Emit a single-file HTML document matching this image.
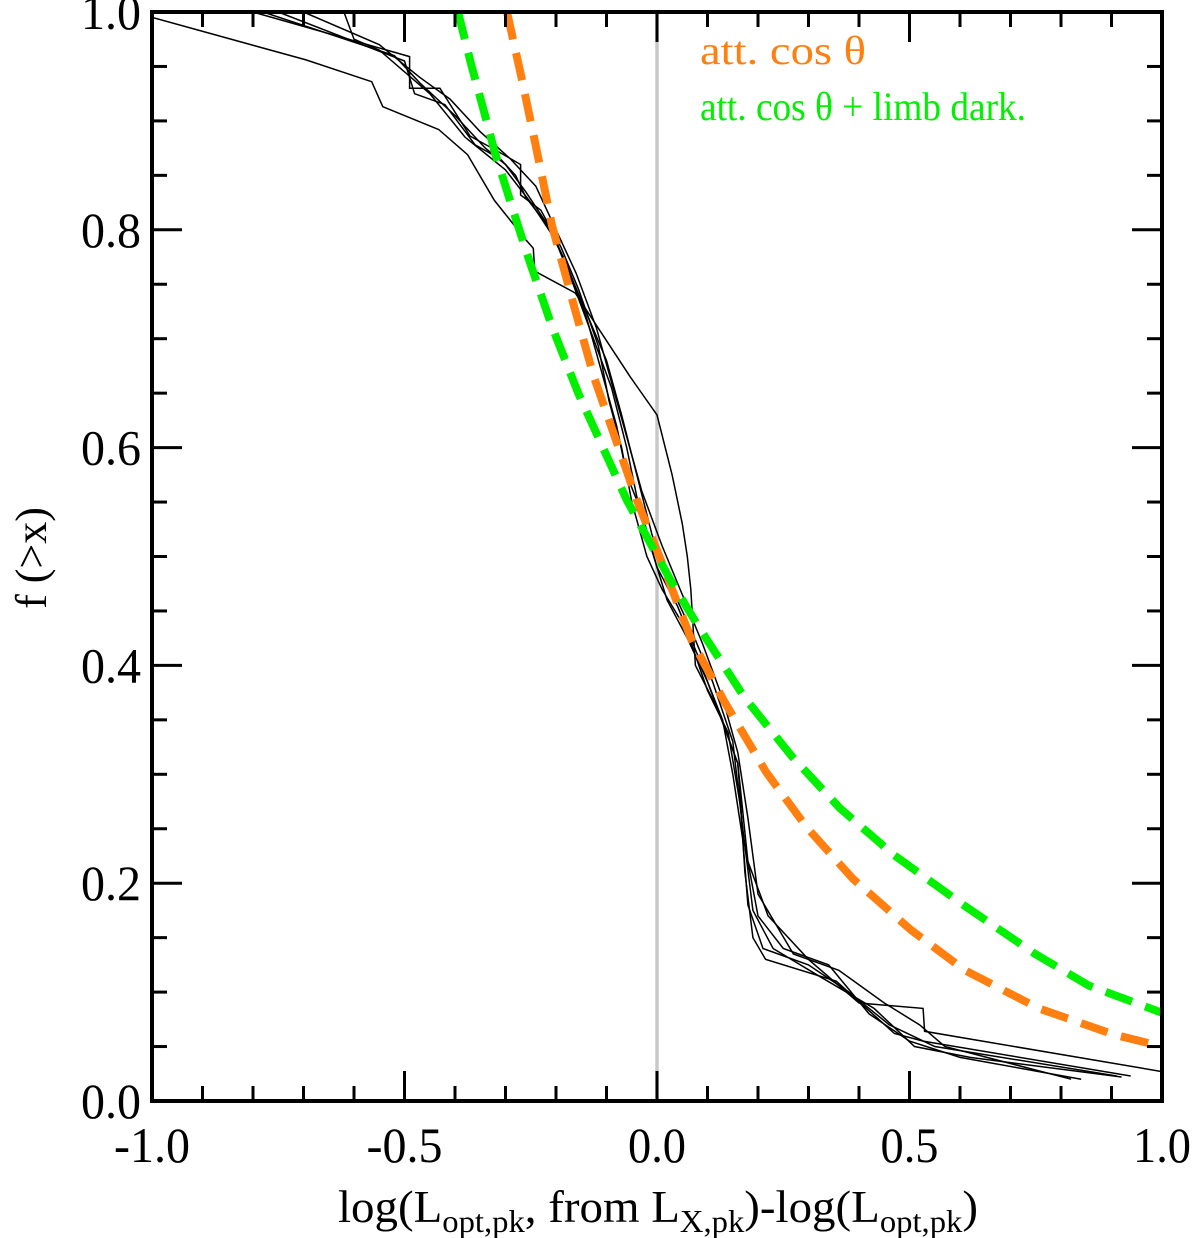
<!DOCTYPE html>
<html><head><meta charset="utf-8"><style>
html,body{margin:0;padding:0;background:#fff}
svg{display:block}
text{font-family:"Liberation Serif",serif;fill:#000}
</style></head><body>
<svg id="chart" width="1200" height="1238" viewBox="0 0 1200 1238" xmlns="http://www.w3.org/2000/svg">
<g id="marks"></g>
<g id="axes"></g>
</svg>
<script>
const xTicks=[-1.0,-0.5,0.0,0.5,1.0];
const xTickLabels=["-1.0","-0.5","0.0","0.5","1.0"];
const yTicks=[0.0,0.2,0.4,0.6,0.8,1.0];
const yTickLabels=["0.0","0.2","0.4","0.6","0.8","1.0"];
const orangeX=[-0.297,-0.269,-0.240,-0.208,-0.162,-0.125,-0.040,0.010,0.067,0.133,0.216,0.297,0.388,0.503,0.610,0.756,0.905,1.0];
const orangeY=[1.0,0.941,0.877,0.804,0.726,0.665,0.552,0.494,0.425,0.367,0.302,0.251,0.204,0.157,0.120,0.085,0.061,0.050];
const greenX=[-0.394,-0.367,-0.344,-0.321,-0.283,-0.253,-0.208,-0.156,-0.060,0.026,0.083,0.174,0.268,0.362,0.469,0.610,0.749,0.855,1.0];
const greenY=[1.0,0.950,0.911,0.871,0.815,0.772,0.711,0.650,0.552,0.479,0.435,0.370,0.316,0.269,0.226,0.179,0.135,0.106,0.081];
const s1X=[-0.80,-0.49,-0.49,-0.43,-0.37,-0.315,-0.27,-0.27,-0.23,-0.19,-0.155,-0.116,-0.095,-0.07,-0.05,-0.02,0.01,0.059,0.10,0.141,0.166,0.174,0.19,0.215,0.355,0.47,0.527,0.938];
const s1Y=[1.0,0.959,0.930,0.930,0.886,0.872,0.860,0.832,0.818,0.784,0.745,0.693,0.643,0.60,0.55,0.50,0.47,0.432,0.377,0.338,0.269,0.21,0.15,0.13,0.11,0.062,0.055,0.023];
const s2X=[-0.75,-0.50,-0.48,-0.42,-0.36,-0.31,-0.28,-0.26,-0.22,-0.18,-0.14,-0.11,-0.08,-0.06,-0.03,0.00,0.04,0.08,0.12,0.16,0.17,0.20,0.25,0.34,0.42,0.50,0.60,0.84];
const s2Y=[1.0,0.955,0.925,0.915,0.878,0.865,0.850,0.830,0.806,0.770,0.720,0.670,0.62,0.575,0.54,0.49,0.455,0.41,0.36,0.31,0.245,0.17,0.14,0.125,0.08,0.055,0.04,0.02];
const s3X=[-1.0,-0.695,-0.565,-0.543,-0.432,-0.375,-0.322,-0.26,-0.245,-0.242,-0.162,-0.053,0.0,0.03,0.05,0.06,0.067,0.076,0.12,0.16,0.18,0.22,0.30,0.40,0.527,0.53,1.0];
const s3Y=[0.995,0.956,0.936,0.913,0.892,0.869,0.827,0.791,0.783,0.762,0.742,0.665,0.630,0.575,0.53,0.50,0.47,0.40,0.36,0.31,0.22,0.17,0.13,0.09,0.085,0.064,0.027];
const s4X=[-0.62,-0.60,-0.55,-0.45,-0.38,-0.30,-0.25,-0.20,-0.15,-0.10,-0.07,-0.04,-0.01,0.03,0.07,0.11,0.15,0.17,0.19,0.23,0.32,0.43,0.51,0.62,0.92];
const s4Y=[1.0,0.975,0.965,0.925,0.885,0.855,0.825,0.79,0.735,0.68,0.63,0.575,0.52,0.47,0.43,0.385,0.33,0.25,0.175,0.14,0.115,0.085,0.050,0.040,0.022];
const s5X=[-0.78,-0.52,-0.47,-0.40,-0.34,-0.30,-0.26,-0.21,-0.17,-0.13,-0.09,-0.06,-0.04,-0.01,0.02,0.06,0.10,0.13,0.15,0.17,0.18,0.21,0.30,0.38,0.46,0.55,0.91];
const s5Y=[1.0,0.96,0.935,0.905,0.875,0.86,0.835,0.80,0.755,0.705,0.655,0.60,0.555,0.505,0.46,0.425,0.385,0.35,0.30,0.24,0.18,0.14,0.125,0.10,0.07,0.05,0.023];
const s6X=[-0.70,-0.55,-0.47,-0.41,-0.35,-0.29,-0.24,-0.20,-0.16,-0.12,-0.09,-0.06,-0.03,0.01,0.05,0.09,0.13,0.16,0.18,0.20,0.27,0.36,0.45,0.52,0.57,0.82];
const s6Y=[1.0,0.97,0.94,0.92,0.89,0.865,0.84,0.80,0.76,0.71,0.66,0.61,0.56,0.51,0.465,0.42,0.37,0.32,0.26,0.19,0.135,0.12,0.09,0.07,0.05,0.02];

const L=152,R=1162,T=12,B=1101;
const sx=v=>L+(v+1)/2*(R-L);
const sy=v=>B-v*(B-T);
const NS="http://www.w3.org/2000/svg";
const marks=document.getElementById('marks');
const axes=document.getElementById('axes');
function mk(tag,attrs,parent){const e=document.createElementNS(NS,tag);for(const k in attrs)e.setAttribute(k,attrs[k]);parent.appendChild(e);return e;}
function pts(X,Y){return X.map((x,i)=>sx(x).toFixed(1)+','+sy(Y[i]).toFixed(1)).join(' ');}

const clip=mk('clipPath',{id:'pc'},marks);
mk('rect',{x:L,y:T,width:R-L,height:B-T},clip);

const zl=mk('line',{x1:sx(0),x2:sx(0),y1:T,y2:B,stroke:'#c8c8c8','stroke-width':3.5},marks);



const blacks=[[s1X,s1Y],[s2X,s2Y],[s3X,s3Y],[s4X,s4Y],[s5X,s5Y],[s6X,s6Y]];
blacks.forEach((s,i)=>{
  const p=mk('polyline',{points:pts(s[0],s[1]),fill:'none',stroke:'#000','stroke-width':1.5,'clip-path':'url(#pc)'},marks);
  
  
});
const og=mk('polyline',{points:pts(orangeX,orangeY),fill:'none',stroke:'#ff8010','stroke-width':8,'stroke-dasharray':'28 14','clip-path':'url(#pc)'},marks);


const gr=mk('polyline',{points:pts(greenX,greenY),fill:'none',stroke:'#00f000','stroke-width':8,'stroke-dasharray':'28 14','clip-path':'url(#pc)'},marks);



const fr=mk('rect',{x:L,y:T,width:R-L,height:B-T,fill:'none',stroke:'#000','stroke-width':4},axes);


for(let k=-10;k<=10;k++){
  const v=k/10, X=sx(v), len=(k%5===0)?30:15;
  mk('line',{x1:X,x2:X,y1:B,y2:B-len,stroke:'#000','stroke-width':3},axes);
  mk('line',{x1:X,x2:X,y1:T,y2:T+len,stroke:'#000','stroke-width':3},axes);
}
for(let k=0;k<=20;k++){
  const v=k/20, Y=sy(v), len=(k%4===0)?30:15;
  mk('line',{x1:L,x2:L+len,y1:Y,y2:Y,stroke:'#000','stroke-width':3},axes);
  mk('line',{x1:R,x2:R-len,y1:Y,y2:Y,stroke:'#000','stroke-width':3},axes);
}
xTicks.forEach((v,i)=>{
  const t=mk('text',{x:sx(v),y:1162,'text-anchor':'middle','font-size':50,textLength:xTickLabels[i].length>3?76:58,lengthAdjust:'spacingAndGlyphs'},axes);
  t.textContent=xTickLabels[i];
  
  
});
yTicks.forEach((v,i)=>{
  const t=mk('text',{x:141,y:sy(v)+17,'text-anchor':'end','font-size':50,textLength:60,lengthAdjust:'spacingAndGlyphs'},axes);
  t.textContent=yTickLabels[i];
  
  
});
</script>
<svg style="position:absolute;left:0;top:0" width="1200" height="1238" xmlns="http://www.w3.org/2000/svg">
<text x="338" y="1222" font-size="46" textLength="640" lengthAdjust="spacingAndGlyphs">log(L<tspan font-size="32" dy="10">opt,pk</tspan><tspan dy="-10">, from L</tspan><tspan font-size="32" dy="10">X,pk</tspan><tspan dy="-10">)-log(L</tspan><tspan font-size="32" dy="10">opt,pk</tspan><tspan dy="-10">)</tspan></text>
<text transform="translate(46,558) rotate(-90)" text-anchor="middle" font-size="44">f (&gt;x)</text>
<text x="700" y="64" font-size="40" textLength="166" lengthAdjust="spacingAndGlyphs" style="fill:#ff8010">att. cos θ</text>
<text x="700" y="120" font-size="40" textLength="326" lengthAdjust="spacingAndGlyphs" style="fill:#00f000">att. cos θ + limb dark.</text>
</svg>
</body></html>
